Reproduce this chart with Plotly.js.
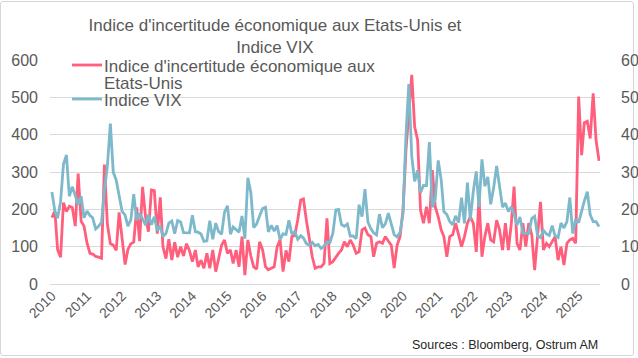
<!DOCTYPE html>
<html>
<head>
<meta charset="utf-8">
<script src="https://cdn.plot.ly/plotly-3.0.1.min.js"></script>
<style>
  html, body { margin: 0; padding: 0; background: #ffffff; }
  #frame { position: absolute; left: 0; top: 1px; width: 634px; height: 355px; border: 1px solid #d6d6d6; border-radius: 3px; box-sizing: border-box; }
  #chart { position: absolute; left: 0; top: 0; width: 638px; height: 358px; }
</style>
</head>
<body>
<div id="frame"></div>
<div id="chart"></div>
<script>
// Monthly series, Jan 2010 to Aug 2025
const startYear = 2010;
const yearLabels = ['2010','2011','2012','2013','2014','2015','2016','2017','2018','2019','2020','2021','2022','2023','2024','2025'];

// Indice d'incertitude économique aux Etats-Unis (left axis)
const epu = [
  178, 195, 92, 72, 218, 194, 208, 205, 155, 296, 168, 155,
  110, 82, 80, 74, 72, 69, 320, 160, 108, 104, 90, 192,
  122, 52, 92, 108, 112, 205, 115, 260, 180, 140, 252, 250,
  135, 232, 100, 68, 120, 64, 112, 72, 100, 75, 108, 90,
  60, 91, 46, 64, 42, 82, 42, 91, 33, 69, 104, 118,
  82, 91, 55, 91, 46, 127, 24, 118, 75, 46, 40, 113,
  92, 46, 38, 42, 46, 100, 118, 33, 90, 60, 127, 130,
  172, 225, 228, 170, 118, 73, 42, 46, 46, 55, 176, 55,
  60, 73, 82, 91, 113, 100, 118, 104, 82, 86, 145, 150,
  132, 127, 73, 109, 113, 109, 127, 115, 104, 43, 104, 127,
  198, 360, 466, 560, 421, 386, 198, 163, 207, 163, 305, 207,
  180, 145, 127, 73, 127, 132, 163, 127, 100, 127, 163, 180,
  163, 86, 234, 73, 127, 163, 118, 113, 171, 145, 91, 163,
  91, 163, 261, 109, 91, 163, 100, 163, 132, 37, 127, 220,
  91, 109, 100, 113, 127, 64, 100, 51, 109, 118, 122, 109,
  502, 345, 432, 436, 390, 511, 385, 330
];

// Indice VIX (right axis)
const vix = [
  24.62, 19.50, 17.59, 22.05, 32.07, 34.54, 23.50, 26.05, 23.70, 21.20, 23.54, 17.75,
  19.53, 18.35, 17.74, 14.75, 15.45, 16.52, 25.25, 31.62, 42.96, 29.96, 27.80, 23.40,
  19.44, 18.43, 15.50, 17.15, 24.06, 17.08, 18.93, 17.47, 15.73, 18.60, 15.87, 18.02,
  14.28, 15.51, 12.70, 13.52, 16.30, 16.86, 13.45, 17.01, 16.60, 13.75, 13.70, 13.72,
  18.41, 14.00, 13.88, 13.41, 11.40, 11.57, 16.95, 11.98, 16.31, 14.03, 13.33, 19.20,
  20.97, 13.34, 15.29, 14.55, 13.84, 18.23, 12.12, 28.43, 24.50, 15.07, 16.13, 18.21,
  20.20, 20.55, 13.95, 15.70, 14.19, 15.63, 11.87, 13.42, 13.29, 17.06, 13.33, 14.04,
  11.99, 12.92, 12.37, 10.82, 10.41, 11.18, 10.26, 10.59, 9.51, 10.18, 11.28, 11.04,
  13.54, 19.85, 19.97, 15.93, 15.43, 16.09, 12.83, 12.86, 12.12, 21.23, 18.07, 25.42,
  16.57, 14.78, 13.71, 13.12, 18.71, 15.08, 16.12, 18.98, 16.24, 13.22, 12.62, 13.78,
  18.84, 40.11, 53.54, 34.15, 27.51, 30.43, 24.46, 26.41, 26.37, 38.02, 20.57, 22.75,
  33.09, 27.95, 19.40, 18.61, 16.76, 15.83, 18.24, 16.48, 23.14, 16.26, 27.19, 17.22,
  24.83, 30.15, 20.56, 33.40, 26.19, 28.71, 21.33, 25.87, 31.62, 25.88, 20.58, 21.67,
  19.40, 20.70, 18.70, 15.78, 17.94, 13.59, 13.63, 13.57, 17.52, 18.14, 12.92, 12.45,
  14.35, 13.40, 13.01, 15.65, 12.92, 12.44, 16.36, 15.00, 16.73, 23.16, 13.51, 17.35,
  16.43, 19.63, 22.28, 24.70, 18.57, 16.73, 16.72, 15.36
];

const seriesNames = ["Indice d'incertitude économique aux", 'Etats-Unis', 'Indice VIX'];
const seriesColors = ['#FF5F7C', '#7DB8CB'];

const months = [];
for (let i = 0; i < epu.length; i++) {
  const y = startYear + Math.floor(i / 12);
  const m = (i % 12) + 1;
  months.push(y + '-' + String(m).padStart(2, '0') + '-01');
}
const tickVals = yearLabels.map(y => y + '-01-01');

const grey = '#595959';
const font = 'Liberation Sans, Arial, sans-serif';

const traces = [
  {
    x: months, y: epu, type: 'scatter', mode: 'lines',
    name: seriesNames[0] + ' ' + seriesNames[1],
    line: { color: seriesColors[0], width: 2.8 },
    yaxis: 'y'
  },
  {
    x: months, y: vix, type: 'scatter', mode: 'lines',
    name: seriesNames[2],
    line: { color: seriesColors[1], width: 2.8 },
    yaxis: 'y2'
  }
];

// Legend drawn in paper coordinates (tight line spacing as in the reference)
const px = v => (v - 50) / 550;
const py = v => (284 - v) / 224;
const legendFont = { family: font, size: 17, color: grey };

const layout = {
  width: 638, height: 358,
  paper_bgcolor: 'rgba(0,0,0,0)', plot_bgcolor: 'rgba(0,0,0,0)',
  margin: { l: 50, r: 38, t: 60, b: 74 },
  font: { family: font, color: grey, size: 16 },
  title: {
    text: "Indice d'incertitude économique aux Etats-Unis et<br>Indice VIX",
    font: { family: font, size: 17, color: grey },
    xref: 'container', x: 0.431, xanchor: 'center',
    yref: 'container', y: 0.913, yanchor: 'top'
  },
  showlegend: false,
  xaxis: {
    type: 'date',
    range: ['2009-12-12', '2025-08-11'],
    tickmode: 'array', tickvals: tickVals, ticktext: yearLabels,
    tickangle: -45,
    tickfont: { family: font, size: 14, color: grey },
    showgrid: false, zeroline: false, showline: false,
    ticks: '', fixedrange: true
  },
  yaxis: {
    range: [0, 600], dtick: 100,
    tickfont: { family: font, size: 16, color: grey },
    showgrid: true, gridcolor: '#d9d9d9', gridwidth: 1,
    zeroline: true, zerolinecolor: '#d9d9d9', zerolinewidth: 1,
    showline: false, ticks: '', ticklabelstandoff: 11
  },
  yaxis2: {
    range: [0, 60], dtick: 10, overlaying: 'y', side: 'right',
    tickfont: { family: font, size: 16, color: grey },
    showgrid: false, zeroline: false, showline: false,
    ticks: '', ticklabelstandoff: 20
  },
  shapes: [
    { type: 'line', xref: 'paper', yref: 'paper', x0: px(72), x1: px(102), y0: py(65), y1: py(65),
      line: { color: seriesColors[0], width: 2.8 } },
    { type: 'line', xref: 'paper', yref: 'paper', x0: px(72), x1: px(102), y0: py(99), y1: py(99),
      line: { color: seriesColors[1], width: 2.8 } }
  ],
  annotations: [
    { text: seriesNames[0], xref: 'paper', yref: 'paper', x: px(102), y: py(66),
      xanchor: 'left', yanchor: 'middle', showarrow: false, font: legendFont },
    { text: seriesNames[1], xref: 'paper', yref: 'paper', x: px(102), y: py(83),
      xanchor: 'left', yanchor: 'middle', showarrow: false, font: legendFont },
    { text: seriesNames[2], xref: 'paper', yref: 'paper', x: px(102), y: py(100),
      xanchor: 'left', yanchor: 'middle', showarrow: false, font: legendFont },
    {
      text: 'Sources : Bloomberg, Ostrum AM',
      xref: 'paper', yref: 'paper', x: 1.0, y: py(345),
      xanchor: 'right', yanchor: 'middle', showarrow: false,
      font: { family: font, size: 12.5, color: '#262626' }
    }
  ]
};

Plotly.newPlot('chart', traces, layout, { displayModeBar: false, staticPlot: true });
</script>
</body>
</html>
